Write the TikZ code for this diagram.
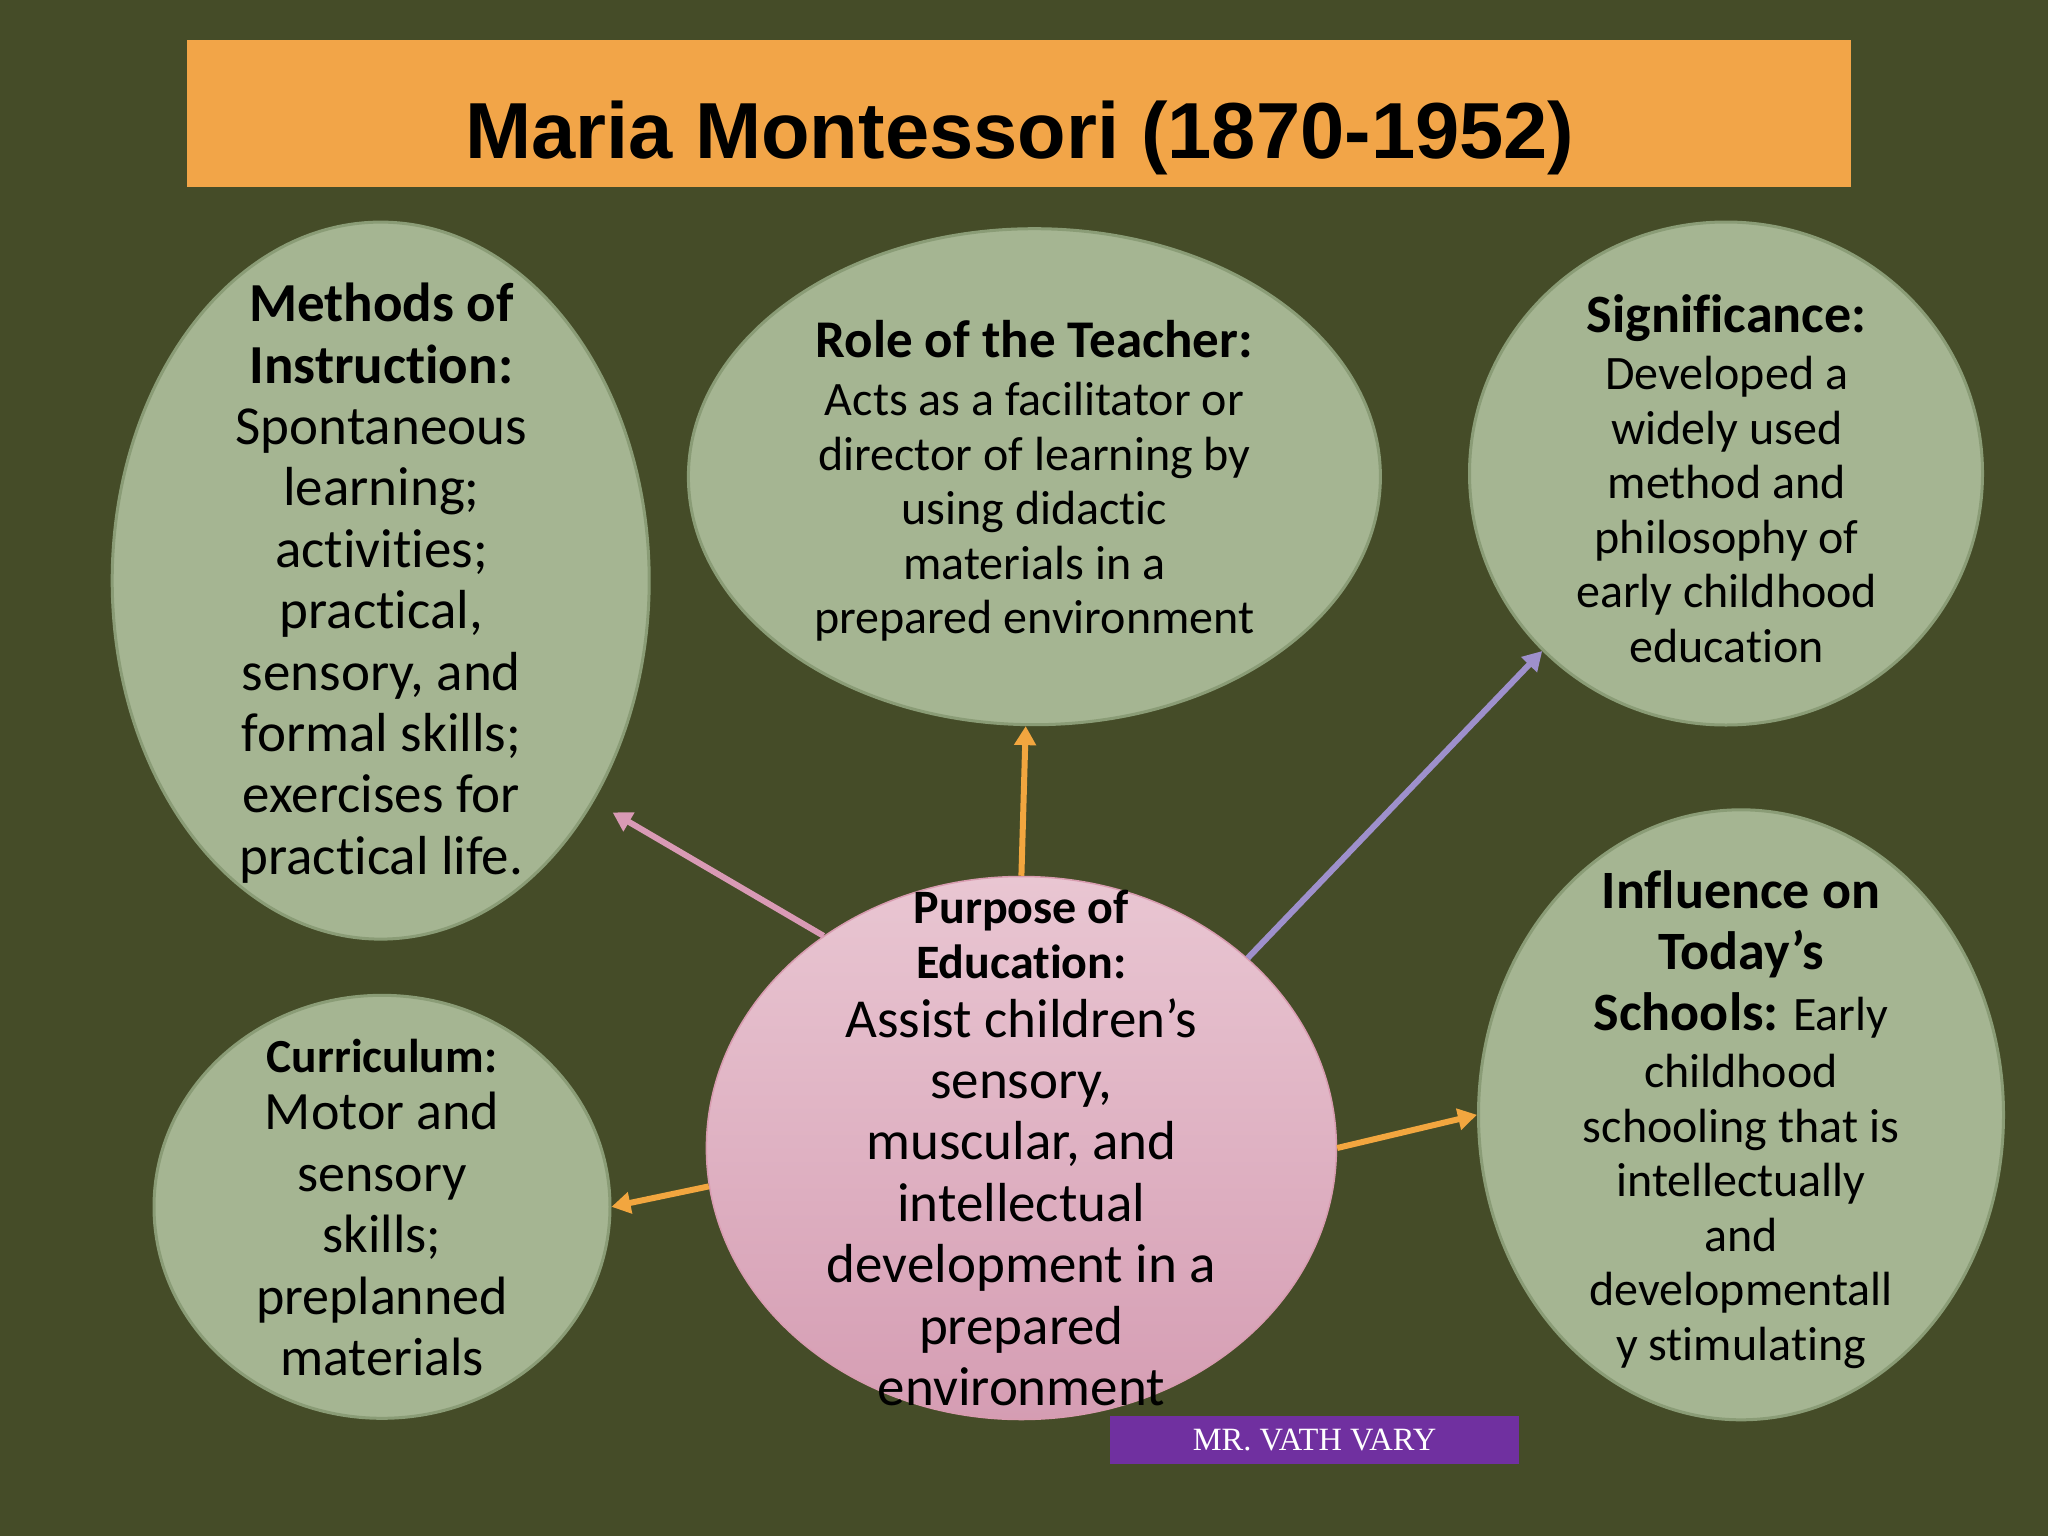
\documentclass[tikz,border=0pt]{standalone}
\usepackage{fontspec}
\setmainfont{Carlito}[Ligatures=NoCommon]
\newfontfamily\titlefont{Liberation Sans}
\newfontfamily\wmfont{Liberation Serif}
\usetikzlibrary{arrows.meta,shapes.geometric}
\definecolor{bg}{HTML}{454C28}
\definecolor{titleorange}{HTML}{F2A548}
\definecolor{gfill}{HTML}{A5B592}
\definecolor{gborder}{HTML}{8A9C76}
\definecolor{ptop}{HTML}{E9C6D2}
\definecolor{pbot}{HTML}{D59DB3}
\definecolor{pborder}{HTML}{D89CB0}
\definecolor{wmpurple}{HTML}{7030A0}
\definecolor{pinkarrow}{HTML}{D99AB5}
\definecolor{orangearrow}{HTML}{F2A63F}
\definecolor{purplearrow}{HTML}{9E90CC}
\begin{document}
\begin{tikzpicture}[x=1pt,y=-1pt,
  bubble/.style={ellipse, draw=gborder, line width=3pt, fill=gfill, inner sep=0pt},
  txt/.style={align=center, text=black, inner sep=0pt},
  arr/.style={line width=6pt, -{Triangle[length=19pt,width=21pt]}},
  big/.style={font=\fontsize{55}{61.4}\selectfont},
  small/.style={font=\fontsize{48}{54.5}\selectfont}
]
\fill[bg] (0,0) rectangle (2048,1536);
\useasboundingbox (0,0) rectangle (2048,1536);

% title
\node[fill=titleorange, minimum width=1664pt, minimum height=147pt, anchor=north west, inner sep=0pt] (titlebox) at (187,40) {};
\node[anchor=base, inner sep=0pt, font=\titlefont\bfseries\fontsize{79.5}{96}\selectfont] (title) at (1020,159) {Maria Montessori (1870-1952)};

% ellipses
\node[bubble, minimum width=537pt, minimum height=717pt] (methods) at (380.7,580.6) {};
\node[bubble, minimum width=692pt, minimum height=496pt] (role) at (1034.4,476.7) {};
\node[bubble, minimum width=513pt, minimum height=503pt] (sig) at (1726,473.5) {};
\node[bubble, minimum width=525pt, minimum height=610pt] (infl) at (1741,1114.8) {};
\node[bubble, minimum width=456pt, minimum height=423pt] (curr) at (382,1206.8) {};
\node[ellipse, draw=pborder, line width=1.5pt, top color=ptop, bottom color=pbot, inner sep=0pt, minimum width=630pt, minimum height=543pt] (purpose) at (1021.4,1148) {};

% arrows
\coordinate (tipM) at (612.6,812.4);
\draw[arr, color=pinkarrow] (purpose.133.7) -- (tipM);
\draw[arr, color=orangearrow] (purpose.90) -- (role.268);
\draw[arr, color=purplearrow] (purpose.40.65) -- (sig.224.8);
\draw[arr, color=orangearrow] (purpose.187) -- (curr.east);
\draw[arr, color=orangearrow] (purpose.east) -- (infl.west);

% texts
\node[txt, big] (methodsT) at (381.4,583.2) {\textbf{Methods of}\\\textbf{Instruction:}\\Spontaneous\\learning;\\activities;\\practical,\\sensory, and\\formal skills;\\exercises for\\practical life.};

\node[txt, small] (roleT) at (1034.4,480.6) {{\fontsize{53}{54.5}\selectfont\bfseries Role of the Teacher:}\\[4pt]Acts as a facilitator or\\director of learning by\\using didactic\\materials in a\\prepared environment};

\node[txt, small] (sigT) at (1726.7,478.7) {{\fontsize{54}{54.5}\selectfont\bfseries Significance:}\\[3pt]Developed a\\widely used\\method and\\philosophy of\\early childhood\\education};

\node[txt, small] (inflT) at (1741,1119.3) {{\fontsize{54}{54.5}\selectfont\bfseries Influence on}\\[6.5pt]{\fontsize{54}{54.5}\selectfont\bfseries Today’s}\\[6.5pt]{\fontsize{54}{54.5}\selectfont\bfseries Schools:} Early\\[3pt]childhood\\schooling that is\\intellectually\\and\\developmentall\\y stimulating};

\node[txt, font=\fontsize{54}{61.4}\selectfont] (currT) at (382,1207.5) {{\fontsize{47.5}{54}\selectfont\bfseries Curriculum:}\\[-4pt]Motor and\\sensory\\skills;\\preplanned\\materials};

\node[txt, big] (purposeT) at (1021.4,1148) {{\fontsize{48}{54}\selectfont\bfseries Purpose of}\\[-6.5pt]{\fontsize{48}{54}\selectfont\bfseries Education:}\\[-2.6pt]Assist children’s\\sensory,\\muscular, and\\intellectual\\development in a\\prepared\\environment};

% watermark
\node[fill=wmpurple, text=white, minimum width=409pt, minimum height=48pt, inner sep=0pt, font=\wmfont\fontsize{32.5}{38}\selectfont] (wm) at (1314.5,1440) {MR. VATH VARY};
\end{tikzpicture}
\end{document}
